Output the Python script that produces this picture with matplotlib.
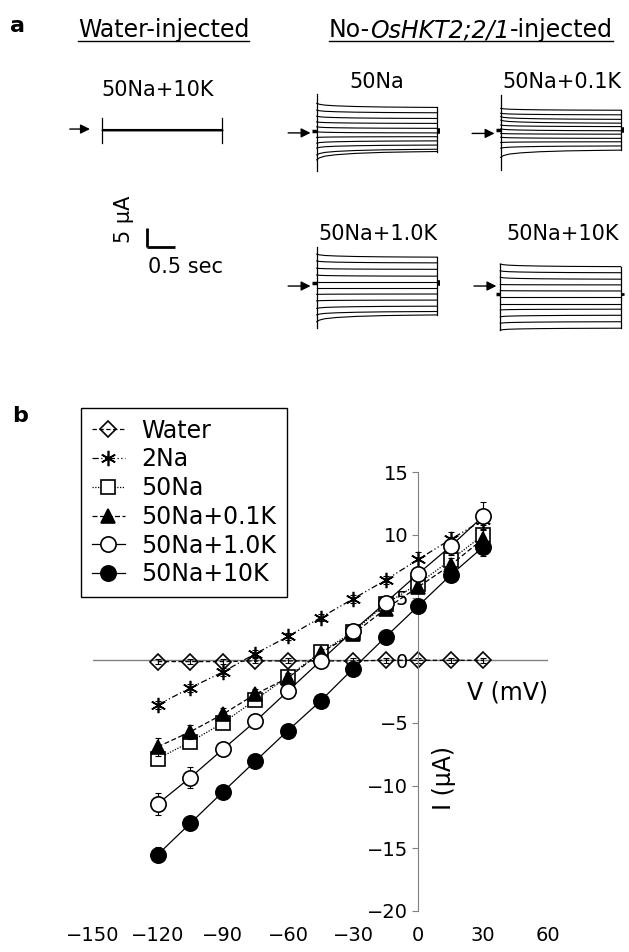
import matplotlib
matplotlib.use('Agg')
import matplotlib.pyplot as plt
from matplotlib.lines import Line2D

# ---- panel a: current traces (uA), 11 voltage steps each ----
relax_t = [0, 0.05, 0.15, 0.35, 0.7, 1.2, 1.7, 2.15]
relax_frac = [1.0, 0.75, 0.55, 0.38, 0.22, 0.1, 0.04, 0.0]
pulse_dur = 2.15

water_level = [0.15, 0.1, 0.1, 0.05, 0.0, 0.0, 0.0, -0.05, -0.05, -0.1, -0.1]
water_spike = [3.2, -3.4]

na50_onset = [7.3, 5.5, 3.9, 2.4, 1.1, -0.2, -1.7, -3.2, -4.5, -6.3, -7.6]
na50_steady = [6.2, 4.8, 3.3, 2.0, 0.7, -0.5, -1.5, -2.6, -3.7, -4.8, -5.4]
na50_spike = [9.7, -10.4]

k01_onset = [5.7, 4.4, 3.5, 2.6, 1.3, 0.3, -0.9, -1.9, -3.3, -4.8, -7.2]
k01_steady = [5.2, 4.0, 2.8, 1.8, 0.9, -0.2, -1.1, -2.2, -3.1, -4.2, -5.3]
k01_spike = [9.2, -10.5]

k1_onset = [7.6, 5.8, 3.9, 2.1, 0.3, -1.4, -3.0, -4.7, -6.7, -8.4, -10.2]
k1_steady = [6.8, 5.3, 3.6, 1.8, 0.3, -1.4, -2.9, -4.5, -6.1, -7.5, -8.4]
k1_spike = [9.55, -11.8]

k10_onset = [7.9, 6.1, 4.4, 2.5, 0.9, -0.9, -2.5, -4.2, -6.0, -7.7, -9.5]
k10_steady = [7.2, 5.6, 3.9, 2.4, 0.8, -0.9, -2.5, -4.0, -5.6, -7.3, -9.0]
k10_spike = [7.9, -9.5]

# ---- panel b: I-V data ----
voltage = [-120, -105, -90, -75, -60, -45, -30, -15, 0, 15, 30]
i_water = [-0.1, -0.1, -0.1, -0.05, -0.05, -0.05, -0.05, 0.0, 0.0, 0.0, 0.0]
i_2na = [-3.55, -2.2, -0.93, 0.53, 1.9, 3.4, 4.9, 6.4, 8.05, 9.65, 11.2]
i_50na = [-7.85, -6.5, -5.0, -3.15, -1.3, 0.65, 2.25, 4.5, 6.1, 8.0, 10.0]
i_01k = [-6.9, -5.7, -4.3, -2.7, -1.4, 0.6, 2.1, 4.1, 5.85, 7.6, 9.7]
i_1k = [-11.45, -9.35, -7.1, -4.87, -2.45, -0.05, 2.35, 4.6, 6.9, 9.1, 11.5]
i_10k = [-15.5, -13.0, -10.5, -8.04, -5.6, -3.25, -0.67, 1.86, 4.33, 6.8, 9.05]

e_water = [0.2, 0.2, 0.2, 0.2, 0.2, 0.2, 0.2, 0.2, 0.2, 0.2, 0.2]
e_2na = [0.3, 0.3, 0.3, 0.3, 0.3, 0.3, 0.3, 0.35, 0.6, 0.6, 0.7]
e_50na = [0.5, 0.45, 0.4, 0.35, 0.3, 0.3, 0.3, 0.35, 0.4, 0.6, 0.8]
e_01k = [0.7, 0.55, 0.5, 0.4, 0.35, 0.3, 0.3, 0.35, 0.45, 0.6, 0.8]
e_1k = [0.9, 0.8, 0.5, 0.4, 0.3, 0.3, 0.3, 0.4, 0.5, 0.7, 1.1]
e_10k = [0.6, 0.55, 0.4, 0.35, 0.3, 0.3, 0.3, 0.35, 0.4, 0.55, 0.75]

W, H = 629, 952
PX_S, PX_UA = 56.0, 3.8      # pixels per second / per uA in panel a
T_MIN, T_MAX = -0.65, 2.35
I_MIN, I_MAX = -12.5, 10.5

fig = plt.figure(figsize=(W / 100, H / 100), dpi=100)
renderer = fig.canvas.get_renderer()


def fy(y):
    return 1 - y / H


def trace_axes(left_px, zero_px):
    x0 = left_px + T_MIN * PX_S
    bottom = zero_px - I_MIN * PX_UA
    ax = fig.add_axes([x0 / W, fy(bottom), (T_MAX - T_MIN) * PX_S / W,
                       (I_MAX - I_MIN) * PX_UA / H])
    ax.set_xlim(T_MIN, T_MAX)
    ax.set_ylim(I_MIN, I_MAX)
    ax.axis('off')
    return ax


def add_arrow(ax, tip, y, length=0.4):
    ax.annotate('', xy=(tip, y), xytext=(tip - length, y),
                arrowprops=dict(arrowstyle='-|>', color='k', lw=1,
                                mutation_scale=14, shrinkA=0, shrinkB=0))


def draw_block(left_px, zero_px, onset, steady, spike, arrow_y, tip=-0.11,
               tail_mark=4.0):
    ax = trace_axes(left_px, zero_px)
    for a, b in zip(onset, steady):
        cur = [b + (a - b) * f for f in relax_frac]
        ax.plot(relax_t, cur, color='k', lw=0.8)
    ax.plot([0, 0], spike, color='k', lw=0.9)
    ax.plot([pulse_dur, pulse_dur], [min(steady), max(steady)], color='k', lw=0.9)
    ax.plot([-0.08, 0], [0, 0], color='k', lw=2.5, solid_capstyle='butt')
    ax.plot([pulse_dur, pulse_dur + 0.06], [0, 0], color='k', lw=tail_mark,
            solid_capstyle='butt')
    add_arrow(ax, tip, arrow_y)
    return ax


# water-injected trace
axw = trace_axes(101.7, 130)
for lv in water_level:
    axw.plot([0, pulse_dur], [lv, lv], color='k', lw=0.8)
axw.plot([0, 0], water_spike, color='k', lw=0.9)
axw.plot([pulse_dur, pulse_dur], water_spike, color='k', lw=0.9)
add_arrow(axw, -0.21, 0.25, 0.36)

draw_block(316.7, 131, na50_onset, na50_steady, na50_spike, -0.5)
draw_block(500.7, 130, k01_onset, k01_steady, k01_spike, -0.9)
draw_block(316.7, 283, k1_onset, k1_steady, k1_spike, -0.8)
draw_block(500.3, 294, k10_onset, k10_steady, k10_spike, 2.1, tip=-0.07,
           tail_mark=2.0)

# scale bar
axs = trace_axes(147, 247)
axs.plot([0, 0], [0, 5], color='k', lw=2, solid_capstyle='butt')
axs.plot([0, 0.5], [0, 0], color='k', lw=2, solid_capstyle='butt')
fig.text(124 / W, fy(219), '5 μA', rotation=90, ha='center', va='center', fontsize=15)
fig.text(185 / W, fy(267), '0.5 sec', ha='center', va='center', fontsize=15)

# panel labels and headers
fig.text(10 / W, fy(32), 'a', fontsize=16, fontweight='bold', va='baseline')
fig.text(12 / W, fy(422), 'b', fontsize=16, fontweight='bold', va='baseline')

t = fig.text(78 / W, fy(37), 'Water-injected', fontsize=17, va='baseline')
bb = t.get_window_extent(renderer)
fig.add_artist(Line2D([bb.x0 / W, bb.x1 / W], [fy(40.5), fy(40.5)], color='k', lw=1))

x = 329
x_start = x
for piece, style in [('No-', 'normal'), ('OsHKT2;2/1', 'italic'), ('-injected', 'normal')]:
    t = fig.text(x / W, fy(37), piece, fontsize=17, va='baseline', style=style)
    x = t.get_window_extent(renderer).x1
fig.add_artist(Line2D([x_start / W, x / W], [fy(40.5), fy(40.5)], color='k', lw=1))

for cx, by, lab in [(158, 96, '50Na+10K'), (377, 88, '50Na'), (562, 88, '50Na+0.1K'),
                    (378, 240, '50Na+1.0K'), (563, 240, '50Na+10K')]:
    fig.text(cx / W, fy(by), lab, ha='center', va='baseline', fontsize=15)

# ---- panel b ----
ax = fig.add_axes([92.7 / W, fy(911), 455.6 / W, 438.7 / H])
ax.set_xlim(-150, 60)
ax.set_ylim(-20, 15)
axis_gray = '#808080'
for s in ['top', 'right', 'bottom']:
    ax.spines[s].set_visible(False)
ax.spines['left'].set_position(('data', 0))
ax.spines['left'].set_color(axis_gray)
ax.axhline(0, color=axis_gray, lw=1, zorder=1)
ax.set_yticks([-20, -15, -10, -5, 0, 5, 10, 15])
ax.tick_params(axis='y', direction='out', length=4, color=axis_gray, labelsize=14, pad=3)
ax.set_xticks([-150, -120, -90, -60, -30, 0, 30, 60])
ax.tick_params(axis='x', length=0, labelsize=14, pad=11)

series = [
    (i_water, e_water, 'Water', dict(marker='D', ms=8.5, mfc='none', dashes=(3.5, 2))),
    (i_2na, e_2na, '2Na', dict(marker=(6, 2, 0), ms=11, dashes=(5, 2, 1, 2, 1, 2))),
    (i_50na, e_50na, '50Na', dict(marker='s', ms=9.5, mfc='white', dashes=(1, 1.2))),
    (i_01k, e_01k, '50Na+0.1K', dict(marker='^', ms=10, mfc='black', dashes=(4, 2))),
    (i_1k, e_1k, '50Na+1.0K', dict(marker='o', ms=11, mfc='white', ls='-')),
    (i_10k, e_10k, '50Na+10K', dict(marker='o', ms=11, mfc='black', ls='-')),
]
handles = []
for z, (vals, err, lab, st) in enumerate(series):
    ax.errorbar(voltage, vals, yerr=err, fmt='none', ecolor='k', elinewidth=0.8,
                capsize=2.2, capthick=0.8, zorder=2 + z)
    h, = ax.plot(voltage, vals, color='k', lw=0.9, mec='k', mew=1.2,
                 label=lab, zorder=2.5 + z, **st)
    handles.append(h)

ax.text(41, -2.55, 'V (mV)', ha='center', va='center', fontsize=17)
ax.text(12, -9.4, 'I (μA)', ha='center', va='center', fontsize=17, rotation=90)

leg = ax.legend(handles=handles, loc='upper left', bbox_to_anchor=(81 / W, fy(408)),
                bbox_transform=fig.transFigure, frameon=True, fancybox=False,
                edgecolor='black', framealpha=1, fontsize=17, handlelength=1.4,
                handletextpad=0.7, labelspacing=0.2, borderpad=0.45,
                borderaxespad=0, numpoints=1)
leg.get_frame().set_linewidth(1.0)

fig.savefig('out.png', dpi=100)
